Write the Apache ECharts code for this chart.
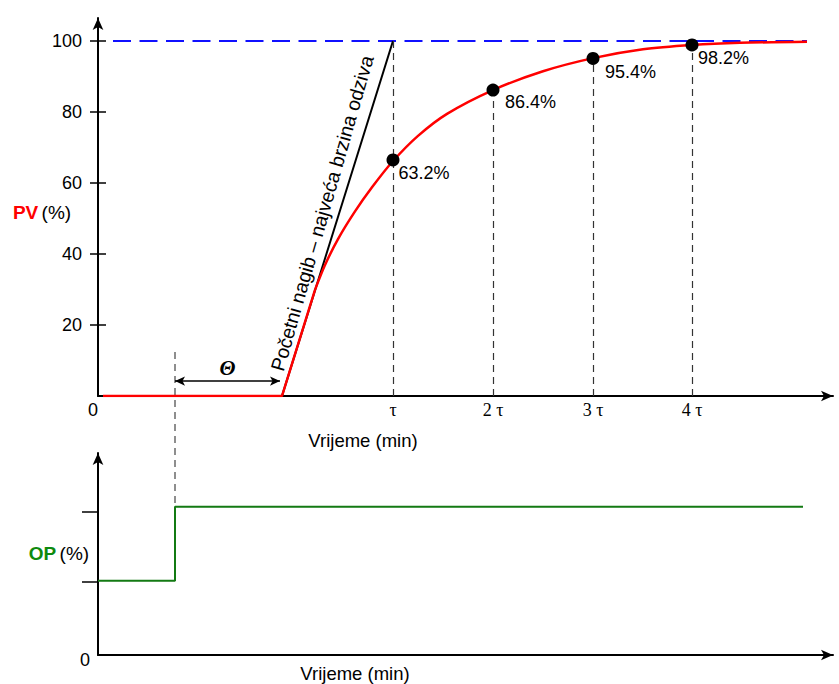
<!DOCTYPE html>
<html><head><meta charset="utf-8">
<script src="https://cdn.jsdelivr.net/npm/echarts@6/dist/echarts.min.js"></script>
<style>html,body{margin:0;padding:0;background:#fff}#c{width:839px;height:684px}</style>
</head><body><div id="c"></div>
<script>
// ---- data ----
const tauTicks = [2.95, 3.95, 4.95, 5.94];
const tauLabels = ['τ', '2 τ', '3 τ', '4 τ'];
const pvTicks = [20, 40, 60, 80, 100];
const pvRiseTime = [0.05, 1.84, 2.17];
const pvRiseValue = [0, 0, 29.9];
const pvCurveTime = [2.17, 2.27, 2.40, 2.57, 2.74, 2.95, 3.20, 3.49, 3.95, 4.45, 4.95, 5.45, 5.94, 6.42, 7.09];
const pvCurveValue = [29.9, 36.9, 44.2, 52.0, 58.8, 66.2, 73.3, 79.5, 86.2, 91.5, 95.2, 97.7, 98.9, 99.5, 99.8];
const tangentTime = [1.84, 2.95];
const tangentValue = [0, 100];
const setpointTime = [0.15, 7.09];
const setpointValue = [100, 100];
const markerValue = [66.5, 86.2, 95.1, 98.9];
const markerLabels = ['63.2%', '86.4%', '95.4%', '98.2%'];
const dropTop = [100, 86.2, 95.1, 98.9];
const stepTime = 0.77;
const deadEnd = 1.82;
const opTime = [0, 0.77, 0.77, 7.05];
const opValue = [36.8, 36.8, 73.4, 73.4];
const opTicks = [36.4, 70.8];
const annotationText = 'Početni nagib – najveća brzina odziva';

// ---- styling helpers (not data) ----
const labelOffsets = [[-6, 13], [0.5, 12], [0.5, 14], [-5.5, 13]];
const SANS = '"Liberation Sans", Arial, sans-serif';
const SERIF = '"Liberation Serif", "Times New Roman", serif';
const zip = (a, b) => a.map((v, i) => [v, b[i]]);

const chart = echarts.init(document.getElementById('c'), null, {renderer: 'svg'});

const axisLineStyle = {color: '#000', width: 2};
const option = {
  animation: false,
  backgroundColor: '#fff',
  grid: [
    {left: 98, top: 18, width: 735, height: 378},
    {left: 98, top: 453, width: 735, height: 202}
  ],
  xAxis: [
    {
      type: 'value', gridIndex: 0, min: 0, max: 7.35,
      axisLine: {show: true, lineStyle: axisLineStyle, symbol: ['none', 'arrow'], symbolSize: [8, 12]},
      axisTick: {show: true, inside: true, length: 4, customValues: tauTicks, lineStyle: {color: '#000', width: 1}},
      axisLabel: {
        show: true, margin: 5, customValues: [0].concat(tauTicks),
        formatter: function (v) {
          if (Math.abs(v) < 1e-9) return '{z|0}';
          for (let i = 0; i < tauTicks.length; i++) if (Math.abs(v - tauTicks[i]) < 1e-6) return '{t|' + tauLabels[i] + '}';
          return '';
        },
        rich: {
          z: {fontFamily: SANS, fontSize: 18, color: '#000', padding: [0, 10, 0, 0]},
          t: {fontFamily: SERIF, fontSize: 18, color: '#000'}
        }
      },
      splitLine: {show: false}
    },
    {
      type: 'value', gridIndex: 1, min: 0, max: 7.35,
      axisLine: {show: true, lineStyle: axisLineStyle, symbol: ['none', 'arrow'], symbolSize: [8, 12]},
      axisTick: {show: false}, axisLabel: {show: false}, splitLine: {show: false}
    }
  ],
  yAxis: [
    {
      type: 'value', gridIndex: 0, min: 0, max: 106.5, position: 'left',
      axisLine: {show: true, lineStyle: axisLineStyle, symbol: ['none', 'arrow'], symbolSize: [8, 12]},
      axisTick: {show: true, length: 8, customValues: pvTicks, lineStyle: {color: '#000', width: 1.5}},
      axisLabel: {show: true, margin: 16, customValues: pvTicks, fontFamily: SANS, fontSize: 18, color: '#000'},
      splitLine: {show: false}
    },
    {
      type: 'value', gridIndex: 1, min: 0, max: 100, position: 'left',
      axisLine: {show: true, lineStyle: axisLineStyle, symbol: ['none', 'arrow'], symbolSize: [8, 12]},
      axisTick: {show: true, length: 16, customValues: opTicks, lineStyle: {color: '#000', width: 1.5}},
      axisLabel: {
        show: true, margin: 8, customValues: [0],
        formatter: function () { return '{z|0}'; },
        rich: {z: {fontFamily: SANS, fontSize: 18, color: '#000', padding: [10, 0, 0, 0]}}
      },
      splitLine: {show: false}
    },
    {
      type: 'value', gridIndex: 0, min: 0, max: 106.5, position: 'left', offset: 0,
      axisLine: {show: false, onZero: false},
      axisTick: {show: true, inside: true, length: 8, customValues: pvTicks, lineStyle: {color: '#000', width: 1.5}},
      axisLabel: {show: false}, splitLine: {show: false}
    }
  ],
  series: [
    {
      name: 'setpoint', type: 'line', xAxisIndex: 0, yAxisIndex: 0, symbol: 'none',
      data: zip(setpointTime, setpointValue),
      lineStyle: {color: '#1010ff', width: 2, type: [18, 8.5]}, z: 2
    },
    {
      name: 'tangent', type: 'line', xAxisIndex: 0, yAxisIndex: 0, symbol: 'none',
      data: zip(tangentTime, tangentValue),
      lineStyle: {color: '#000', width: 2}, z: 3,
      markLine: {
        silent: true, symbol: ['arrow', 'arrow'], symbolSize: [7, 10],
        lineStyle: {color: '#000', width: 1.5, type: 'solid'},
        label: {
          show: true, position: 'middle', formatter: 'Θ', distance: 3,
          fontFamily: SERIF, fontStyle: 'italic', fontWeight: 'bold', fontSize: 21, color: '#000'
        },
        data: [[{coord: [stepTime, 4.2]}, {coord: [deadEnd, 4.2]}]]
      }
    },
    {
      name: 'drops', type: 'line', xAxisIndex: 0, yAxisIndex: 0, symbol: 'none', data: [],
      markLine: {
        silent: true, symbol: 'none',
        lineStyle: {color: '#333', width: 1.2, type: [7, 5]},
        label: {show: false},
        data: tauTicks.map((t, i) => [{coord: [t, 0]}, {coord: [t, dropTop[i]]}])
      }, z: 3
    },
    {
      name: 'pvRise', type: 'line', xAxisIndex: 0, yAxisIndex: 0, symbol: 'none',
      data: zip(pvRiseTime, pvRiseValue),
      lineStyle: {color: '#ff0000', width: 2.5}, z: 4
    },
    {
      name: 'pvCurve', type: 'line', xAxisIndex: 0, yAxisIndex: 0, symbol: 'none', smooth: 0.3,
      data: zip(pvCurveTime, pvCurveValue),
      lineStyle: {color: '#ff0000', width: 2.5}, z: 4
    },
    {
      name: 'markers', type: 'scatter', xAxisIndex: 0, yAxisIndex: 0, symbolSize: 13,
      itemStyle: {color: '#000', opacity: 1}, z: 6,
      data: tauTicks.map((t, i) => ({
        value: [t, markerValue[i]],
        label: {show: true, position: 'right', offset: labelOffsets[i], formatter: markerLabels[i],
                fontFamily: SANS, fontSize: 18, color: '#000', opacity: 1}
      }))
    },
    {
      name: 'op', type: 'line', xAxisIndex: 1, yAxisIndex: 1, symbol: 'none',
      data: zip(opTime, opValue),
      lineStyle: {color: '#137a13', width: 2}, z: 4
    }
  ]
};
chart.setOption(option);

const pTop = chart.convertToPixel({gridIndex: 0}, [stepTime, 12.4]);
const pBot = chart.convertToPixel({gridIndex: 1}, [stepTime, opValue[2]]);
const pAnn = chart.convertToPixel({gridIndex: 0}, [2.24, 51.5]);
chart.setOption({
  graphic: [
    {type: 'line', z: 1, shape: {x1: pTop[0], y1: pTop[1], x2: pBot[0], y2: pBot[1]},
     style: {stroke: '#444', lineWidth: 1.2, lineDash: [7, 5]}},
    {type: 'text', x: pAnn[0], y: pAnn[1], rotation: 74 * Math.PI / 180,
     style: {text: annotationText, font: '19.5px ' + SANS, fill: '#000', align: 'center', verticalAlign: 'middle'}},
    {type: 'text', x: 42, y: 212,
     style: {text: '{a|PV} {b|(%)}', align: 'center', verticalAlign: 'middle',
             rich: {a: {fontFamily: SANS, fontSize: 19, fontWeight: 'bold', fill: '#ff0000', color: '#ff0000'},
                    b: {fontFamily: SANS, fontSize: 19, fill: '#000', color: '#000'}}}},
    {type: 'text', x: 59, y: 553,
     style: {text: '{a|OP} {b|(%)}', align: 'center', verticalAlign: 'middle',
             rich: {a: {fontFamily: SANS, fontSize: 19, fontWeight: 'bold', fill: '#0e8a0e', color: '#0e8a0e'},
                    b: {fontFamily: SANS, fontSize: 19, fill: '#000', color: '#000'}}}},
    {type: 'text', x: 363, y: 440,
     style: {text: 'Vrijeme (min)', font: '18.5px ' + SANS, fill: '#000', align: 'center', verticalAlign: 'middle'}},
    {type: 'text', x: 355, y: 673,
     style: {text: 'Vrijeme (min)', font: '18.5px ' + SANS, fill: '#000', align: 'center', verticalAlign: 'middle'}}
  ]
});
</script></body></html>
